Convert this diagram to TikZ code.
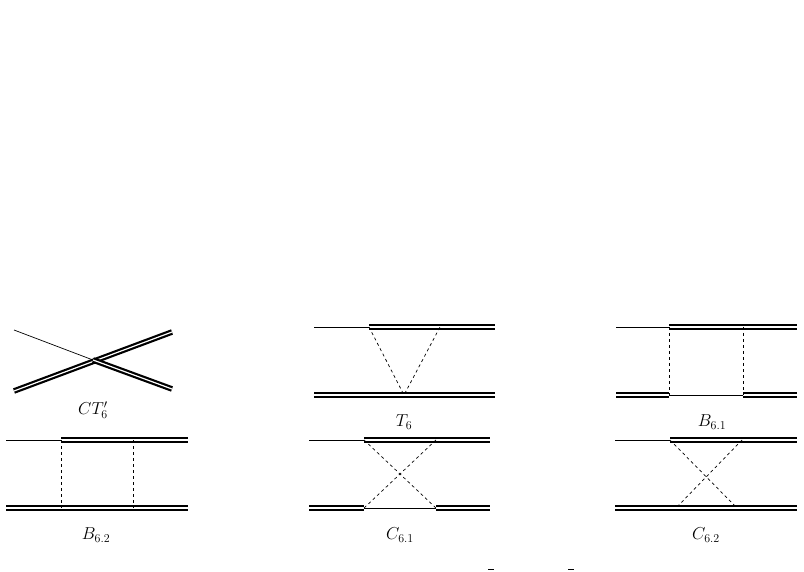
\documentclass[tikz,border=0pt]{standalone}
\begin{document}
\tikzset{
  heavy/.style={double, double distance=1.2pt, line width=2.2pt},
  light/.style={line width=0.7pt},
  exch/.style={dashed, line width=0.7pt},
  lbl/.style={font=\LARGE}
}
\begin{tikzpicture}[x=1pt,y=-1pt]
\useasboundingbox (0,0) rectangle (804,572);
%CT6'
\coordinate (ca) at (14,330); \coordinate (cv) at (93,360);
\coordinate (cb) at (14,391); \coordinate (cc) at (172,332); \coordinate (cd) at (172,389);
\draw[light] (ca) -- (cv);
\draw[heavy] (cb) -- (cc);
\draw[heavy] (cv) -- (cd);
\node[lbl] (lct) at (93,410) {$CT_6'$};
%T6
\coordinate (ta) at (314,327); \coordinate (tb) at (369,327); \coordinate (tc) at (440,327);
\coordinate (td) at (495,327); \coordinate (te) at (314,395); \coordinate (tv) at (404,395);
\coordinate (tf) at (495,395);
\draw[light] (ta) -- (tb);
\draw[heavy] (tb) -- (td);
\draw[heavy] (te) -- (tf);
\draw[exch] (tb) -- (tv) -- (tc);
\node[lbl] (lt) at (404,422) {$T_6$};
%B6.1
\coordinate (ba) at (616,327); \coordinate (bb) at (669,327); \coordinate (bc) at (743,327);
\coordinate (bd) at (797,327); \coordinate (be) at (616,395); \coordinate (bf) at (669,395);
\coordinate (bg) at (743,395); \coordinate (bh) at (797,395);
\draw[light] (ba) -- (bb);
\draw[heavy] (bb) -- (bd);
\draw[heavy] (be) -- (bf);
\draw[light] (bf) -- (bg);
\draw[heavy] (bg) -- (bh);
\draw[exch] (bb) -- (bf) (bc) -- (bg);
\node[lbl] (lb1) at (712,422) {$B_{6.1}$};
%B6.2
\coordinate (da) at (6,440); \coordinate (db) at (61,440); \coordinate (dc) at (133,440);
\coordinate (dd) at (188,440); \coordinate (de) at (6,508); \coordinate (df) at (61,508);
\coordinate (dg) at (133,508); \coordinate (dh) at (188,508);
\draw[light] (da) -- (db);
\draw[heavy] (db) -- (dd);
\draw[heavy] (de) -- (dh);
\draw[exch] (db) -- (df) (dc) -- (dg);
\node[lbl] (lb2) at (96,535) {$B_{6.2}$};
%C6.1
\coordinate (ea) at (309,440); \coordinate (eb) at (364,440); \coordinate (ec) at (436,440);
\coordinate (ed) at (490,440); \coordinate (ee) at (309,508); \coordinate (ef) at (364,508);
\coordinate (eg) at (436,508); \coordinate (eh) at (490,508);
\draw[light] (ea) -- (eb);
\draw[heavy] (eb) -- (ed);
\draw[heavy] (ee) -- (ef);
\draw[light] (ef) -- (eg);
\draw[heavy] (eg) -- (eh);
\draw[exch] (eb) -- (eg) (ec) -- (ef);
\node[lbl] (lc1) at (400,535) {$C_{6.1}$};
%C6.2
\coordinate (fa) at (615,440); \coordinate (fb) at (670,440); \coordinate (fc) at (742,440);
\coordinate (fd) at (797,440); \coordinate (fe) at (615,508); \coordinate (ff) at (676,508);
\coordinate (fg) at (737,508); \coordinate (fh) at (797,508);
\draw[light] (fa) -- (fb);
\draw[heavy] (fb) -- (fd);
\draw[heavy] (fe) -- (fh);
\draw[exch] (fb) -- (fg) (fc) -- (ff);
\node[lbl] (lc2) at (706,535) {$C_{6.2}$};
%marks
\coordinate (ma) at (488,569); \coordinate (mb) at (494,569);
\coordinate (mc) at (568,569); \coordinate (md) at (574,569);
\draw[light] (ma) -- (mb) (mc) -- (md);
\end{tikzpicture}
\end{document}
